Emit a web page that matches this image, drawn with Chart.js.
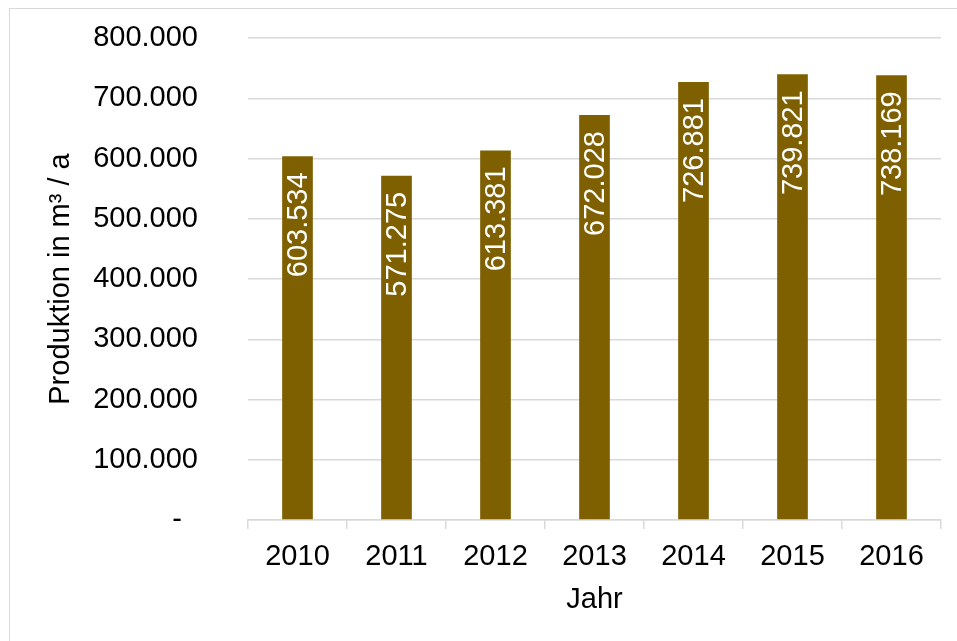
<!DOCTYPE html>
<html>
<head>
  <meta charset="utf-8">
  <title>Produktion</title>
  <script src="https://cdn.jsdelivr.net/npm/chart.js"></script>
  <style>
    html, body { margin: 0; padding: 0; background: #fff; overflow: hidden; }
    #frame { position: absolute; left: 9px; top: 8px; width: 1000px; height: 1000px; border: 1px solid #d9d9d9; }
    #prodChart { position: absolute; left: 0; top: 0; }
  </style>
</head>
<body>
  <div id="frame"></div>
  <canvas id="prodChart" width="957" height="641"></canvas>

  <script>
    const years = ['2010', '2011', '2012', '2013', '2014', '2015', '2016'];
    const production = [603534, 571275, 613381, 672028, 726881, 739821, 738169];
    const yMax = 800000;
    const yStep = 100000;

    const barColor = '#7f6000';
    const lineColor = '#d9d9d9';
    const fontFamily = '"Liberation Sans", Arial, sans-serif';
    const fontSize = 29;

    // 603534 -> "603.534"
    function fmt(v) {
      return String(v).replace(/\B(?=(\d{3})+(?!\d))/g, '.');
    }

    // white rotated value labels near the top of each bar
    const barLabels = {
      id: 'barLabels',
      afterDatasetsDraw(chart) {
        const ctx = chart.ctx;
        const meta = chart.getDatasetMeta(0);
        ctx.save();
        ctx.fillStyle = '#ffffff';
        ctx.font = fontSize + 'px ' + fontFamily;
        ctx.textAlign = 'right';
        ctx.textBaseline = 'middle';
        meta.data.forEach((bar, i) => {
          ctx.save();
          ctx.translate(bar.x + 1, bar.y + 16);
          ctx.rotate(-Math.PI / 2);
          ctx.fillText(fmt(production[i]), 0, 0);
          ctx.restore();
        });
        ctx.restore();
      }
    };

    const ctx = document.getElementById('prodChart').getContext('2d');
    new Chart(ctx, {
      type: 'bar',
      data: {
        labels: years,
        datasets: [{
          data: production,
          backgroundColor: barColor,
          borderWidth: 0,
          categoryPercentage: 1,
          barPercentage: 0.31
        }]
      },
      options: {
        responsive: false,
        animation: false,
        devicePixelRatio: 1,
        layout: { padding: { left: 0, top: 38, right: 16, bottom: 0 } },
        plugins: {
          legend: { display: false },
          tooltip: { enabled: false }
        },
        scales: {
          x: {
            afterFit(scale) { scale.height = 121; },
            grid: {
              offset: true,
              drawOnChartArea: false,
              drawTicks: true,
              tickLength: 9,
              color: lineColor,
              lineWidth: 1.5
            },
            border: { display: true, color: lineColor, width: 1.5 },
            ticks: {
              color: '#000',
              padding: 11,
              font: { family: fontFamily, size: fontSize }
            },
            title: {
              display: true,
              text: 'Jahr',
              color: '#000',
              padding: { top: 0, bottom: 24 },
              font: { family: fontFamily, size: fontSize }
            }
          },
          y: {
            min: 0,
            max: yMax,
            afterFit(scale) { scale.width = 248; },
            // invisible tick marks keep the labels clear of the plot
            grid: {
              drawTicks: true,
              tickLength: 50,
              tickColor: 'rgba(0,0,0,0)',
              color: lineColor,
              lineWidth: 1.5
            },
            border: { display: false },
            ticks: {
              stepSize: yStep,
              color: '#000',
              padding: 0,
              font: { family: fontFamily, size: fontSize },
              callback: v => v === 0 ? '-  ' : fmt(v)
            },
            title: {
              display: true,
              text: 'Produktion in m³ / a',
              color: '#000',
              padding: { top: 44, bottom: 0 },
              font: { family: fontFamily, size: fontSize }
            }
          }
        }
      },
      plugins: [barLabels]
    });
  </script>
</body>
</html>
